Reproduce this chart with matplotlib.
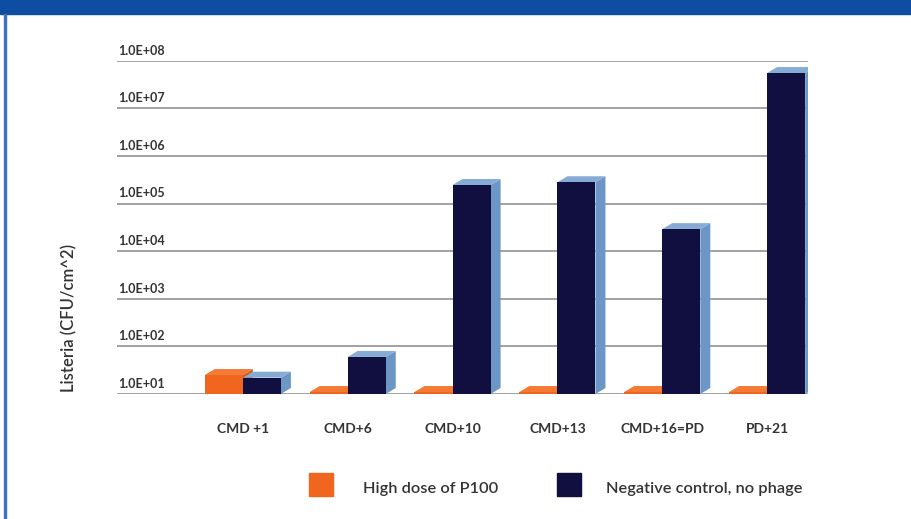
import matplotlib.pyplot as plt
from matplotlib.patches import Polygon, Rectangle

categories = ["CMD +1", "CMD+6", "CMD+10", "CMD+13", "CMD+16=PD", "PD+21"]
high_dose = [25, 11, 11, 11, 11, 11]
neg_control = [22, 60, 2.45e5, 2.8e5, 2.9e4, 5.5e7]
tick_values = [1e1, 1e2, 1e3, 1e4, 1e5, 1e6, 1e7, 1e8]
tick_labels = ["1.0E+01", "1.0E+02", "1.0E+03", "1.0E+04",
               "1.0E+05", "1.0E+06", "1.0E+07", "1.0E+08"]
series_names = ["High dose of P100", "Negative control, no phage"]

W, H = 912, 519
plt.rcParams['font.family'] = ['Lato', 'DejaVu Sans']
text_color = '#333333'

fig = plt.figure(figsize=(W / 100, H / 100), dpi=100)
ax = fig.add_axes([117 / W, 1 - 394 / H, (808 - 117) / W, (394 - 60.7) / H])
ax.set_yscale('log')
ax.set_ylim(1e1, 1e8)
ax.set_xlim(-1.20, 5.39)
for s in ax.spines.values():
    s.set_visible(False)
ax.set_yticks([])
ax.minorticks_off()
ax.set_xticks(range(len(categories)), categories)
ax.tick_params(axis='x', length=0, pad=21, labelsize=10, labelcolor=text_color)
for lbl in ax.get_xticklabels():
    lbl.set_fontweight('bold')

# back-wall gridlines with their labels sitting on top
for v, lab in zip(tick_values, tick_labels):
    ax.axhline(v, color='#9a9a9a', lw=1.3, zorder=1)
    ax.annotate(lab, (0, v), xycoords=('axes fraction', 'data'),
                xytext=(1, 3), textcoords='offset points',
                ha='left', va='bottom', fontsize=9, fontweight='bold',
                color=text_color)


def box_bar(x0, width, top, front, side, roof, z, dx=10, dy=6):
    ax.bar(x0, top - 10, width, bottom=10, align='edge', color=front,
           zorder=z + 0.2, lw=0)
    to_px = ax.transData.transform
    to_data = ax.transData.inverted().transform
    (xl, yb), (xr, yt) = to_px([(x0, 10), (x0 + width, top)])
    side_pts = [(xr, yb), (xr + dx, yb + dy), (xr + dx, yt + dy), (xr, yt)]
    roof_pts = [(xl, yt), (xl + dx, yt + dy), (xr + dx, yt + dy), (xr, yt)]
    ax.add_patch(Polygon(to_data(side_pts), closed=True, color=side,
                         lw=0, zorder=z))
    ax.add_patch(Polygon(to_data(roof_pts), closed=True, color=roof,
                         lw=0, zorder=z + 0.1))


bw = 0.363
for i in range(len(categories)):
    box_bar(i - bw, bw, high_dose[i], '#f0661f', '#d9581a', '#f47a36', 3 + i)
    box_bar(i, bw, neg_control[i], '#100f3f', '#6b96c6', '#86abd5', 3.5 + i)

fig.text(69 / W, 1 - 318 / H, 'Listeria (CFU/cm^2)', rotation=90,
         ha='center', va='center', fontsize=12, fontweight='semibold',
         color=text_color)

# legend
fig.add_artist(Rectangle((309 / W, 1 - 496 / H), 24 / W, 23 / H,
                         color='#f0661f', transform=fig.transFigure))
fig.text(363 / W, 1 - 489 / H, series_names[0], ha='left', va='center',
         fontsize=11.8, color=text_color, fontweight='semibold')
fig.add_artist(Rectangle((557 / W, 1 - 496 / H), 24 / W, 23 / H,
                         color='#100f3f', transform=fig.transFigure))
fig.text(606 / W, 1 - 489 / H, series_names[1], ha='left', va='center',
         fontsize=11.8, color=text_color, fontweight='semibold')

# header band and frame edge
fig.add_artist(Rectangle((0, 1 - 14 / H), 1, 14 / H, color='#0d4ea2',
                         transform=fig.transFigure))
fig.add_artist(Rectangle((4 / W, 0), 2 / W, 1 - 14 / H, color='#3d72c2',
                         transform=fig.transFigure))

fig.savefig('out.png', dpi=100)
